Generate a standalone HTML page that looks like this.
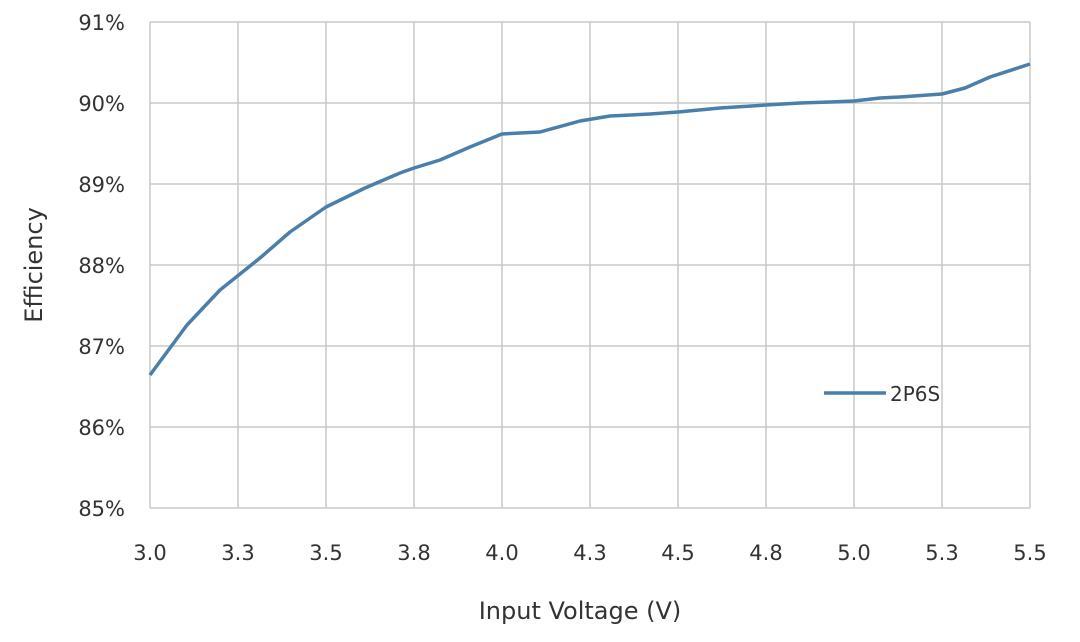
<!DOCTYPE html>
<html><head><style>body{margin:0;background:#fff}svg{display:block}text{font-family:"DejaVu Sans","Liberation Sans",sans-serif;fill:#333}</style></head>
<body>
<svg width="1080" height="642" viewBox="0 0 1080 642">
<g stroke="#c8c8c8" stroke-width="1.5">
<line x1="150" y1="22" x2="1030" y2="22"/><line x1="150" y1="103" x2="1030" y2="103"/><line x1="150" y1="184" x2="1030" y2="184"/><line x1="150" y1="265" x2="1030" y2="265"/><line x1="150" y1="346" x2="1030" y2="346"/><line x1="150" y1="427" x2="1030" y2="427"/><line x1="150" y1="508" x2="1030" y2="508"/>
<line x1="150" y1="22" x2="150" y2="508"/><line x1="238" y1="22" x2="238" y2="508"/><line x1="326" y1="22" x2="326" y2="508"/><line x1="414" y1="22" x2="414" y2="508"/><line x1="502" y1="22" x2="502" y2="508"/><line x1="590" y1="22" x2="590" y2="508"/><line x1="678" y1="22" x2="678" y2="508"/><line x1="766" y1="22" x2="766" y2="508"/><line x1="854" y1="22" x2="854" y2="508"/><line x1="942" y1="22" x2="942" y2="508"/><line x1="1030" y1="22" x2="1030" y2="508"/>
</g>
<polyline fill="none" stroke="#4a7fab" stroke-width="3.5" stroke-linejoin="round" points="150,375 187,325 220,290 260,258 290,232 326,207 365,188 400,173 414,168 440,160 470,147 502,134 540,132 580,121 610,116 650,114 678,112 720,108 766,105 800,103 830,102 854,101 880,98 900,97 942,94 965,88 990,77 1030,64"/>
<line x1="824" y1="393" x2="886" y2="393" stroke="#4a7fab" stroke-width="3.5"/>
<text x="890" y="401" font-size="20">2P6S</text>
<g font-size="21" text-anchor="end">
<text x="125" y="30">91%</text><text x="125" y="111">90%</text><text x="125" y="192">89%</text><text x="125" y="273">88%</text><text x="125" y="354">87%</text><text x="125" y="435">86%</text><text x="125" y="516">85%</text>
</g>
<g font-size="21" text-anchor="middle">
<text x="150" y="560">3.0</text><text x="238" y="560">3.3</text><text x="326" y="560">3.5</text><text x="414" y="560">3.8</text><text x="502" y="560">4.0</text><text x="590" y="560">4.3</text><text x="678" y="560">4.5</text><text x="766" y="560">4.8</text><text x="854" y="560">5.0</text><text x="942" y="560">5.3</text><text x="1030" y="560">5.5</text>
</g>
<text x="580" y="619" font-size="24" text-anchor="middle">Input Voltage (V)</text>
<text transform="translate(42,265) rotate(-90)" font-size="24" text-anchor="middle">Efficiency</text>
</svg>
</body></html>
